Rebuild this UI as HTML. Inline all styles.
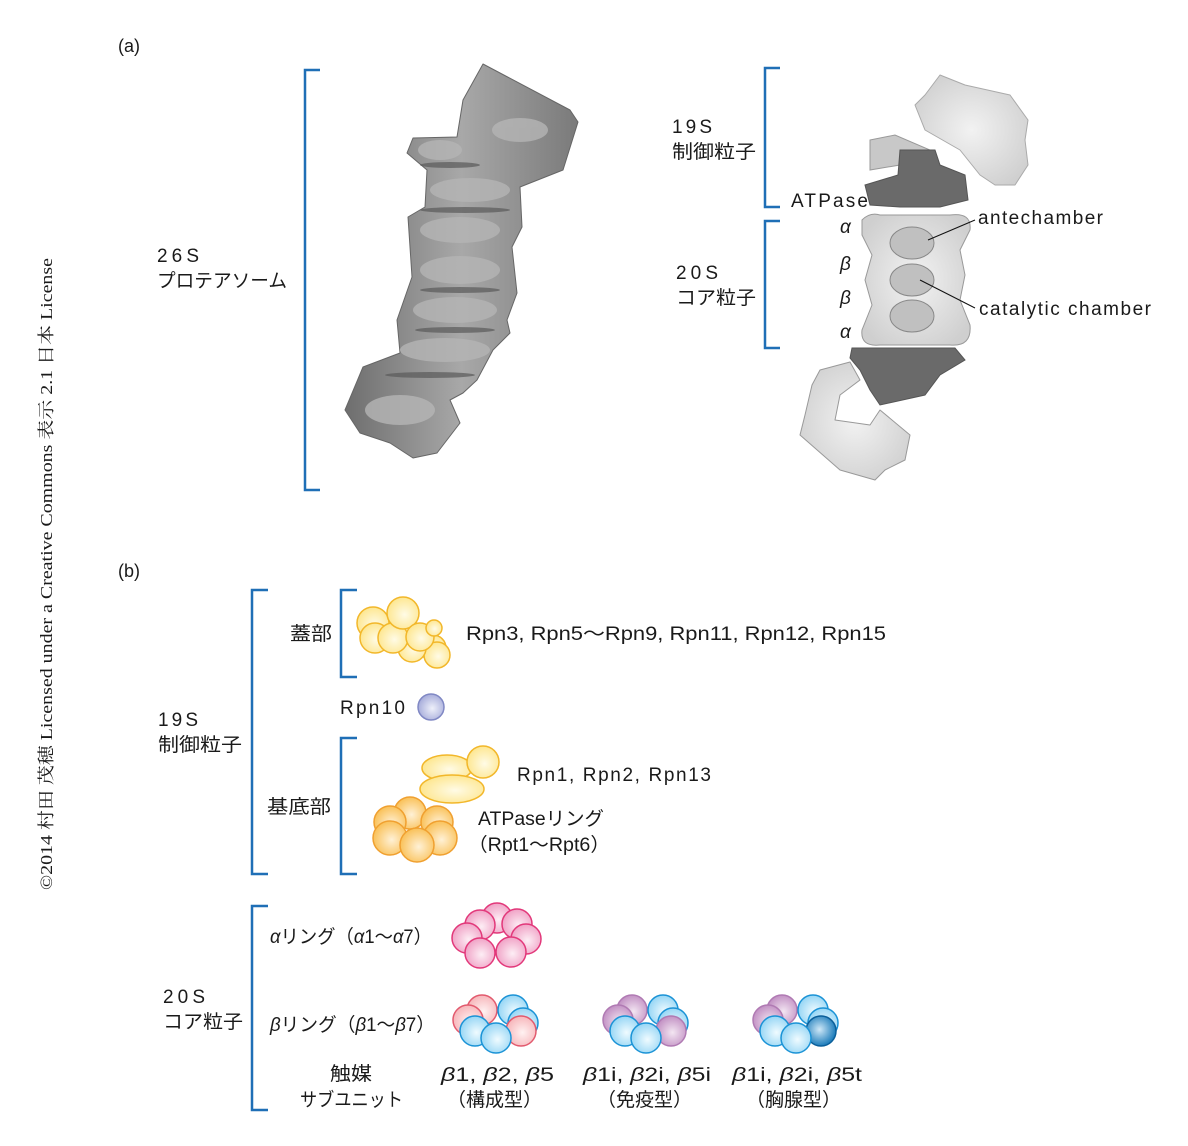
<!DOCTYPE html>
<html><head><meta charset="utf-8"><style>
html,body{margin:0;padding:0;background:#fff}
svg{display:block}
text{font-family:"Liberation Sans","Noto Sans CJK JP",sans-serif;fill:#1a1a1a}
.s{font-family:"Liberation Serif","Noto Serif CJK SC",serif}
</style></head><body>
<svg width="1188" height="1146" viewBox="0 0 1188 1146" xmlns="http://www.w3.org/2000/svg">
<defs>
<radialGradient id="gy" cx="0.55" cy="0.55" r="0.6"><stop offset="0" stop-color="#fffbe6"/><stop offset="1" stop-color="#fde58a"/></radialGradient>
<radialGradient id="go" cx="0.55" cy="0.55" r="0.6"><stop offset="0" stop-color="#fff1d6"/><stop offset="1" stop-color="#f9bd4e"/></radialGradient>
<radialGradient id="gp" cx="0.55" cy="0.55" r="0.6"><stop offset="0" stop-color="#fdeef5"/><stop offset="1" stop-color="#ef9cc2"/></radialGradient>
<radialGradient id="gr" cx="0.55" cy="0.55" r="0.6"><stop offset="0" stop-color="#fff2f2"/><stop offset="1" stop-color="#f6b1b6"/></radialGradient>
<radialGradient id="gb" cx="0.55" cy="0.55" r="0.6"><stop offset="0" stop-color="#f0fbff"/><stop offset="1" stop-color="#8fd3f4"/></radialGradient>
<radialGradient id="gm" cx="0.55" cy="0.55" r="0.6"><stop offset="0" stop-color="#f3e6f2"/><stop offset="1" stop-color="#be8ac0"/></radialGradient>
<radialGradient id="gd" cx="0.45" cy="0.45" r="0.6"><stop offset="0" stop-color="#cfe8f7"/><stop offset="1" stop-color="#0b72b5"/></radialGradient>
<radialGradient id="gv" cx="0.55" cy="0.55" r="0.6"><stop offset="0" stop-color="#eef0fa"/><stop offset="1" stop-color="#a1a7d8"/></radialGradient>
<linearGradient id="gg" x1="0" y1="0" x2="1" y2="0"><stop offset="0" stop-color="#6e6e6e"/><stop offset="0.5" stop-color="#a8a8a8"/><stop offset="1" stop-color="#7a7a7a"/></linearGradient>
<radialGradient id="gw" cx="0.5" cy="0.5" r="0.6"><stop offset="0" stop-color="#f2f2f2"/><stop offset="1" stop-color="#cfcfcf"/></radialGradient>
</defs>

<text class="s" transform="translate(52,890) rotate(-90)" font-size="17" textLength="632" lengthAdjust="spacingAndGlyphs">©2014 村田 茂穂 Licensed under a Creative Commons 表示 2.1 日本 License</text>

<text x="118" y="52" font-size="18">(a)</text>
<text x="118" y="577" font-size="18">(b)</text>

<g stroke="#1f6fb6" stroke-width="2.5" fill="none">
<path d="M320,70 H305 V490 H320"/>
<path d="M780,68 H765 V207 H780"/>
<path d="M780,221 H765 V348 H780"/>
<path d="M268,590 H252 V874 H268"/>
<path d="M357,590 H341 V677 H357"/>
<path d="M357,738 H341 V874 H357"/>
<path d="M268,906 H252 V1110 H268"/>
</g>

<text x="157" y="262" font-size="19" textLength="42">26S</text>
<text x="157" y="287" font-size="19" textLength="130" lengthAdjust="spacingAndGlyphs">プロテアソーム</text>

<path d="M483,64 L570,110 L578,122 L563,170 L520,187 L522,227 L512,247 L517,293 L507,320 L510,333 L493,350 L477,380 L463,393 L450,400 L460,423 L437,453 L413,458 L390,443 L360,433 L345,410 L363,367 L400,353 L397,320 L412,277 L410,247 L408,217 L425,207 L427,170 L407,153 L413,138 L457,137 L463,100 Z" fill="url(#gg)" stroke="#666" stroke-width="1" stroke-linejoin="round"/>
<g fill="#b5b5b5" opacity="0.8">
<ellipse cx="520" cy="130" rx="28" ry="12"/><ellipse cx="440" cy="150" rx="22" ry="10"/>
<ellipse cx="470" cy="190" rx="40" ry="12"/><ellipse cx="460" cy="230" rx="40" ry="13"/>
<ellipse cx="460" cy="270" rx="40" ry="14"/><ellipse cx="455" cy="310" rx="42" ry="13"/>
<ellipse cx="445" cy="350" rx="45" ry="12"/><ellipse cx="400" cy="410" rx="35" ry="15"/>
</g>
<g fill="#5a5a5a" opacity="0.7">
<ellipse cx="450" cy="165" rx="30" ry="3"/><ellipse cx="465" cy="210" rx="45" ry="3"/>
<ellipse cx="460" cy="290" rx="40" ry="3"/><ellipse cx="455" cy="330" rx="40" ry="3"/>
<ellipse cx="430" cy="375" rx="45" ry="3"/>
</g>

<text x="672" y="133" font-size="19" textLength="40">19S</text>
<text x="672" y="158" font-size="19" textLength="84" lengthAdjust="spacingAndGlyphs">制御粒子</text>
<text x="676" y="279" font-size="19" textLength="42">20S</text>
<text x="676" y="304" font-size="19" textLength="80" lengthAdjust="spacingAndGlyphs">コア粒子</text>
<text x="791" y="207" font-size="19" textLength="77">ATPase</text>
<text x="840" y="233" font-size="19" font-style="italic">α</text>
<text x="840" y="270" font-size="19" font-style="italic">β</text>
<text x="840" y="304" font-size="19" font-style="italic">β</text>
<text x="840" y="338" font-size="19" font-style="italic">α</text>
<text x="978" y="224" font-size="19" textLength="125">antechamber</text>
<text x="979" y="315" font-size="19" textLength="172">catalytic chamber</text>

<path d="M925,95 L940,75 L965,85 L1010,95 L1028,120 L1025,140 L1028,165 L1015,185 L995,185 L980,175 L960,150 L925,130 L915,105 Z" fill="url(#gw)" stroke="#aaa" stroke-linejoin="round"/>
<path d="M870,140 L895,135 L930,150 L900,165 L870,170 Z" fill="#c8c8c8" stroke="#999"/>
<path d="M900,150 L935,150 L940,165 L965,175 L968,200 L940,207 L900,207 L870,205 L865,185 L898,175 Z" fill="#6a6a6a" stroke="#555"/>
<path d="M862,220 Q870,212 880,215 L950,215 Q972,212 970,230 L960,250 L965,275 L960,300 L970,325 Q972,347 950,345 L880,345 Q860,347 862,330 L872,305 L865,280 L872,255 L862,235 Z" fill="url(#gw)" stroke="#999"/>
<g fill="#c0c0c0" stroke="#888"><ellipse cx="912" cy="243" rx="22" ry="16"/><ellipse cx="912" cy="280" rx="22" ry="16"/><ellipse cx="912" cy="316" rx="22" ry="16"/></g>
<g stroke="#111" stroke-width="1"><line x1="928" y1="240" x2="975" y2="220"/><line x1="920" y1="280" x2="975" y2="308"/></g>
<path d="M852,348 L955,348 L965,360 L940,375 L925,395 L880,405 L870,390 L860,370 L850,358 Z" fill="#6a6a6a" stroke="#555"/>
<path d="M820,370 L850,362 L860,380 L840,395 L835,420 L870,425 L880,410 L910,435 L905,460 L885,470 L875,480 L840,470 L800,435 L805,415 L812,385 Z" fill="url(#gw)" stroke="#999" stroke-linejoin="round"/>

<text x="158" y="726" font-size="19" textLength="40">19S</text>
<text x="158" y="751" font-size="19" textLength="84" lengthAdjust="spacingAndGlyphs">制御粒子</text>
<text x="290" y="640" font-size="19" textLength="42" lengthAdjust="spacingAndGlyphs">蓋部</text>
<text x="267" y="813" font-size="19" textLength="64" lengthAdjust="spacingAndGlyphs">基底部</text>
<text x="466" y="640" font-size="19" textLength="420" lengthAdjust="spacingAndGlyphs">Rpn3, Rpn5〜Rpn9, Rpn11, Rpn12, Rpn15</text>
<text x="340" y="714" font-size="19" textLength="65">Rpn10</text>
<text x="517" y="781" font-size="19" textLength="194">Rpn1, Rpn2, Rpn13</text>
<text x="478" y="825" font-size="19" textLength="126" lengthAdjust="spacingAndGlyphs">ATPaseリング</text>
<text x="468" y="851" font-size="19" textLength="142" lengthAdjust="spacingAndGlyphs">（Rpt1〜Rpt6）</text>

<g stroke="#f2b72a" stroke-width="1.5">
<circle cx="373" cy="623" r="16" fill="url(#gy)"/><circle cx="375" cy="638" r="15" fill="url(#gy)"/>
<circle cx="433" cy="648" r="13" fill="url(#gy)"/><circle cx="437" cy="655" r="13" fill="url(#gy)"/>
<circle cx="412" cy="648" r="14" fill="url(#gy)"/><circle cx="393" cy="638" r="15" fill="url(#gy)"/>
<circle cx="403" cy="613" r="16" fill="url(#gy)"/><circle cx="420" cy="637" r="14" fill="url(#gy)"/>
<circle cx="434" cy="628" r="8" fill="url(#gy)"/>
<ellipse cx="447" cy="768" rx="25" ry="13" fill="url(#gy)"/><circle cx="483" cy="762" r="16" fill="url(#gy)"/>
<ellipse cx="452" cy="789" rx="32" ry="14" fill="url(#gy)"/>
</g>
<circle cx="431" cy="707" r="13" fill="url(#gv)" stroke="#8088c4" stroke-width="1.5"/>
<g stroke="#f0a030" stroke-width="1.5" fill="url(#go)">
<circle cx="410" cy="813" r="16"/><circle cx="390" cy="822" r="16"/><circle cx="437" cy="822" r="16"/>
<circle cx="390" cy="838" r="17"/><circle cx="440" cy="838" r="17"/><circle cx="417" cy="845" r="17"/>
</g>

<text x="163" y="1003" font-size="19" textLength="42">20S</text>
<text x="163" y="1028" font-size="19" textLength="80" lengthAdjust="spacingAndGlyphs">コア粒子</text>
<text x="270" y="943" font-size="19" textLength="162" lengthAdjust="spacingAndGlyphs"><tspan font-style="italic">α</tspan>リング（<tspan font-style="italic">α</tspan>1〜<tspan font-style="italic">α</tspan>7）</text>
<text x="270" y="1031" font-size="19" textLength="165" lengthAdjust="spacingAndGlyphs"><tspan font-style="italic">β</tspan>リング（<tspan font-style="italic">β</tspan>1〜<tspan font-style="italic">β</tspan>7）</text>
<text x="330" y="1080" font-size="19" textLength="42" lengthAdjust="spacingAndGlyphs">触媒</text>
<text x="300" y="1106" font-size="19" textLength="103" lengthAdjust="spacingAndGlyphs">サブユニット</text>
<text x="441" y="1081" font-size="19" textLength="113" lengthAdjust="spacingAndGlyphs"><tspan font-style="italic">β</tspan>1, <tspan font-style="italic">β</tspan>2, <tspan font-style="italic">β</tspan>5</text>
<text x="447" y="1106" font-size="19" textLength="95" lengthAdjust="spacingAndGlyphs">（構成型）</text>
<text x="583" y="1081" font-size="19" textLength="128" lengthAdjust="spacingAndGlyphs"><tspan font-style="italic">β</tspan>1i, <tspan font-style="italic">β</tspan>2i, <tspan font-style="italic">β</tspan>5i</text>
<text x="597" y="1106" font-size="19" textLength="95" lengthAdjust="spacingAndGlyphs">（免疫型）</text>
<text x="732" y="1081" font-size="19" textLength="130" lengthAdjust="spacingAndGlyphs"><tspan font-style="italic">β</tspan>1i, <tspan font-style="italic">β</tspan>2i, <tspan font-style="italic">β</tspan>5t</text>
<text x="746" y="1106" font-size="19" textLength="95" lengthAdjust="spacingAndGlyphs">（胸腺型）</text>

<g stroke="#e2387a" stroke-width="1.5" fill="url(#gp)">
<circle cx="497" cy="918" r="15"/><circle cx="480" cy="925" r="15"/><circle cx="517" cy="924" r="15"/>
<circle cx="467" cy="938" r="15"/><circle cx="526" cy="939" r="15"/>
<circle cx="480" cy="953" r="15"/><circle cx="511" cy="952" r="15"/>
</g>
<g stroke-width="1.5">
<circle cx="482" cy="1010" r="15" fill="url(#gr)" stroke="#e25a6e"/>
<circle cx="468" cy="1020" r="15" fill="url(#gr)" stroke="#e25a6e"/>
<circle cx="513" cy="1010" r="15" fill="url(#gb)" stroke="#1b93d6"/>
<circle cx="523" cy="1023" r="15" fill="url(#gb)" stroke="#1b93d6"/>
<circle cx="521" cy="1031" r="15" fill="url(#gr)" stroke="#e25a6e"/>
<circle cx="475" cy="1031" r="15" fill="url(#gb)" stroke="#1b93d6"/>
<circle cx="496" cy="1038" r="15" fill="url(#gb)" stroke="#1b93d6"/>

<circle cx="632" cy="1010" r="15" fill="url(#gm)" stroke="#b07ab3"/>
<circle cx="618" cy="1020" r="15" fill="url(#gm)" stroke="#b07ab3"/>
<circle cx="663" cy="1010" r="15" fill="url(#gb)" stroke="#1b93d6"/>
<circle cx="673" cy="1023" r="15" fill="url(#gb)" stroke="#1b93d6"/>
<circle cx="671" cy="1031" r="15" fill="url(#gm)" stroke="#b07ab3"/>
<circle cx="625" cy="1031" r="15" fill="url(#gb)" stroke="#1b93d6"/>
<circle cx="646" cy="1038" r="15" fill="url(#gb)" stroke="#1b93d6"/>

<circle cx="782" cy="1010" r="15" fill="url(#gm)" stroke="#b07ab3"/>
<circle cx="768" cy="1020" r="15" fill="url(#gm)" stroke="#b07ab3"/>
<circle cx="813" cy="1010" r="15" fill="url(#gb)" stroke="#1b93d6"/>
<circle cx="823" cy="1023" r="15" fill="url(#gb)" stroke="#1b93d6"/>
<circle cx="821" cy="1031" r="15" fill="url(#gd)" stroke="#0b5f9a"/>
<circle cx="775" cy="1031" r="15" fill="url(#gb)" stroke="#1b93d6"/>
<circle cx="796" cy="1038" r="15" fill="url(#gb)" stroke="#1b93d6"/>
</g>
</svg>
</body></html>
